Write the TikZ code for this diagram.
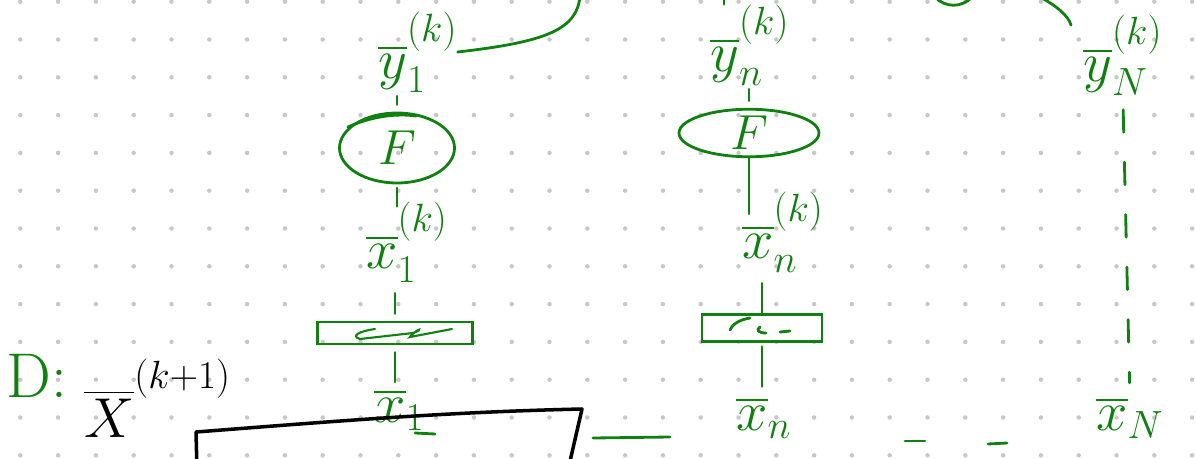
\documentclass[tikz,border=0pt]{standalone}
\usepackage{fix-cm}
\usepackage{amsmath}
\usetikzlibrary{shapes.geometric}
\definecolor{ink}{RGB}{16,128,16}
\definecolor{dotgray}{RGB}{200,200,200}
\newcommand{\itk}[1]{^{\raisebox{.3em}{$\scriptstyle(#1)$}}}

\begin{document}
\begin{tikzpicture}[
  x=0.02cm, y=-0.02cm,
  lab/.style={
    text=ink, inner sep=0pt, anchor=west,
    font=\fontsize{32}{36}\selectfont
  },
  fun/.style={
    ellipse, draw=ink, line width=1.6pt, inner sep=0pt,
    text=ink, font=\fontsize{28}{32}\selectfont
  },
  gate/.style={rectangle, draw=ink, line width=1.6pt, inner sep=0pt},
  link/.style={draw=ink, line width=1.6pt, line cap=round},
  gap/.style={link, dash pattern=on 0.45cm off 0.6cm},
  vec/.style={draw=black, line width=2pt, line join=round},
]
  \useasboundingbox (0,0) rectangle (1196,459);
  \clip (0,0) rectangle (1196,459);

  % dot paper
  \foreach \i in {0,...,31} {
    \foreach \j in {0,...,12} {
      \fill[dotgray] (20.3+37.8*\i, 1.7+37.8*\j) circle (0.045cm);
    }
  }

  % column 1
  \node[lab] (y1) at (378,52) {$\overline{y}_1\itk{k}$};
  \node[fun, minimum width=2.3cm, minimum height=1.4cm] (F1) at (397,148) {$F$};
  \node[lab] (x1k) at (366,242) {$\overline{x}_1\itk{k}$};
  \node[gate, minimum width=3.1cm, minimum height=0.44cm] (g1) at (395,333) {};
  \node[lab] (x1) at (374,410) {$\overline{x}_1$};

  % column n
  \node[lab] (yn) at (710,45) {$\overline{y}_n\itk{k}$};
  \node[fun, minimum width=2.8cm, minimum height=0.94cm] (Fn) at (749,133) {$F$};
  \node[lab] (xnk) at (742,232) {$\overline{x}_n\itk{k}$};
  \node[gate, minimum width=2.4cm, minimum height=0.55cm] (gn) at (762,328) {};
  \node[lab] (xn) at (736,418) {$\overline{x}_n$};

  % column N
  \node[lab] (yN) at (1083,55) {$\overline{y}_N\itk{k}$};
  \node[lab] (xN) at (1096,418) {$\overline{x}_N$};

  % D and its vector
  \node[lab, font=\fontsize{36}{40}\selectfont] (D) at (6,376) {D:};
  \node[lab, text=black] (X) at (84,398) {$\overline{X}\itk{k+1}$};
  \draw[vec] (197,470) -- (196,432) .. controls (350,420) and (450,412) .. (582,409)
    -- (568,470);

  \coordinate (top1) at (580,-5);
  \coordinate (topn) at (724,-5);

  \draw[link] (y1.east) .. controls (545,42) and (578,30) .. (top1);
  \draw[link] (topn) -- (topn |- yn.north);
  \draw[link] (935,-3) .. controls (945,8) and (962,8) .. (972,-3);
  \draw[link] (1040,-3) .. controls (1055,5) and (1068,15) .. (1071,25);

  \draw[link, shorten <=2pt, shorten >=4pt] (y1.south -| F1) -- (F1.north);
  \draw[link, shorten <=2pt] (F1.south) -- ([yshift=-0.1cm]F1.south |- x1k.north);
  \draw[link, shorten <=6pt, shorten >=4pt] (x1k.south -| g1) -- (g1.north);
  \draw[link, shorten <=4pt, shorten >=4pt] (g1.south) -- (g1.south |- x1.north);
  \draw[link] (348,127) .. controls (370,117) and (395,113) .. (416,116);
  \draw[link, line width=1.2pt] (375,329) .. controls (360,331) and (350,336) .. (360,339)
    -- (413,333) .. controls (425,329) and (418,327) .. (410,337) -- (452,329);

  \draw[link, shorten <=2pt, shorten >=4pt] (yn.south -| Fn) -- (Fn.north);
  \draw[link] (Fn.south) -- ([yshift=-0.45cm]Fn.south |- xnk.north);
  \draw[link, shorten <=6pt] (xnk.south -| gn) -- (gn.north);
  \draw[link, shorten <=2pt, shorten >=6pt] (gn.south) -- (gn.south |- xn.north);
  \draw[link] (750,318) .. controls (738,320) and (732,325) .. (730,330);
  \draw[link] (760,327) .. controls (756,330) and (758,333) .. (766,333);
  \draw[link] (780,332) -- (790,331);

  \draw[gap, shorten <=8pt, shorten >=8pt] (yN.south) -- (xN.north);

  \draw[link] (415,433) -- (435,434);
  \draw[link] (593,438) -- (670,437);
  \draw[link] (905,441) -- (925,441);
  \draw[link] (988,444) -- (1007,443);
\end{tikzpicture}
\end{document}
